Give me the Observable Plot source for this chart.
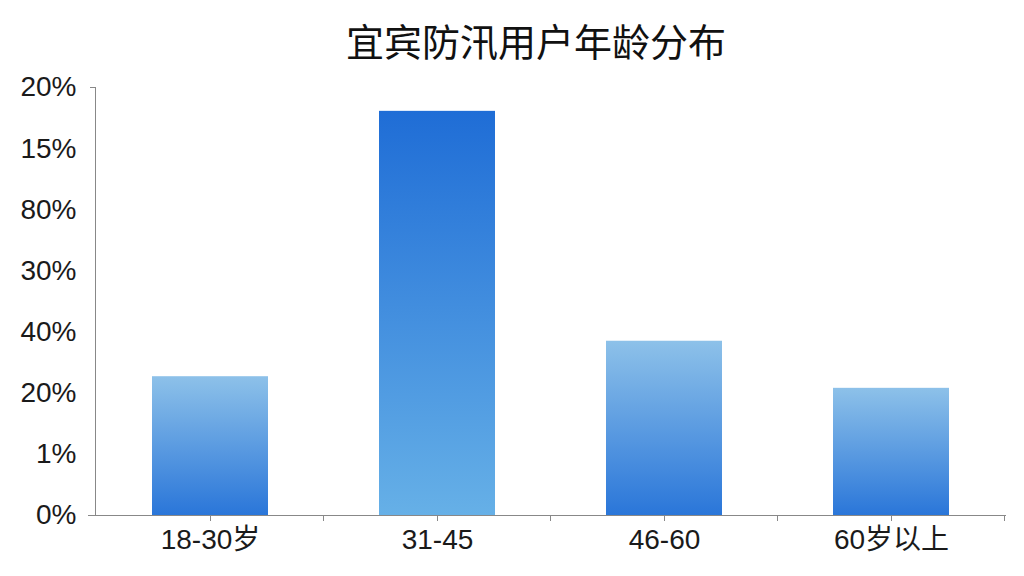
<!DOCTYPE html>
<html>
<head>
<meta charset="utf-8">
<script src="https://cdn.jsdelivr.net/npm/d3@7"></script>
<script src="https://cdn.jsdelivr.net/npm/@observablehq/plot@0.6"></script>
<style>
  html, body { margin: 0; padding: 0; background: #fff; }
  #wrap { width: 1024px; height: 576px; position: relative; overflow: hidden; }
  #title { position: absolute; left: 0; top: 17px; width: 1072px; text-align: center;
    font-family: "Noto Sans CJK SC", "Liberation Sans", sans-serif; font-size: 38px; font-weight: 400; color: #111; line-height: 46px; }
  #chart { position: absolute; left: 0; top: 60px; }
</style>
</head>
<body>
<div id="wrap">
  <div id="title">宜宾防汛用户年龄分布</div>
  <div id="chart"></div>
</div>
<script>
const categories = ["18-30岁", "31-45", "46-60", "60岁以上"];
const values = [2.27, 6.61, 2.85, 2.08];
const tickLabels = ["0%", "1%", "20%", "40%", "30%", "80%", "15%", "20%"];
const gradients = [
  ["#8dc1e9", "#2a76d9"],
  ["#1f6dd6", "#66b0e7"],
  ["#8dc1e9", "#2a76d9"],
  ["#8dc1e9", "#2a76d9"]
];

const data = categories.map((c, i) => ({ cat: c, value: values[i], grad: `url(#grad${i})` }));
const tickIdx = tickLabels.map((_, i) => i);
const font = "'Liberation Sans', 'Noto Sans CJK SC', Arial, sans-serif";

const chart = Plot.plot({
  width: 1024,
  height: 516,
  marginTop: 27,
  marginBottom: 61,
  marginLeft: 95,
  marginRight: 18,
  style: { fontFamily: font, color: "#1a1a1a", background: "#fff" },
  x: { domain: categories, paddingInner: 0.49, paddingOuter: 0.245, label: null },
  y: { domain: [0, tickLabels.length - 1], label: null },
  color: { type: "identity" },
  marks: [
    Plot.barY(data, { x: "cat", y: "value", fill: "grad" }),
    Plot.axisY({ ticks: tickIdx, tickSize: 0, tickPadding: 19, tickFormat: i => tickLabels[i], fontSize: 28, label: null }),
    Plot.axisY({ ticks: [tickLabels.length - 1], tickSize: 5, stroke: "#888", tickFormat: () => "", label: null }),
    Plot.frame({ anchor: "left", stroke: "#888" }),
    Plot.ruleY([0], { stroke: "#888", insetLeft: -7 }),
    Plot.axisX({ tickSize: 6, stroke: "#888", tickPadding: 8, fontSize: 28, label: null })
  ]
});

// gradients
const svg = d3.select(chart);
const defs = svg.insert("defs", ":first-child");
gradients.forEach((g, i) => {
  const lg = defs.append("linearGradient").attr("id", `grad${i}`).attr("x1", 0).attr("y1", 0).attr("x2", 0).attr("y2", 1);
  lg.append("stop").attr("offset", "0%").attr("stop-color", g[0]);
  lg.append("stop").attr("offset", "100%").attr("stop-color", g[1]);
});

// boundary ticks on the x axis
const xs = chart.scale("x");
const ys = chart.scale("y");
const y0 = ys.apply(0);
const bounds = categories.map(c => xs.apply(c) + xs.bandwidth / 2 + xs.step / 2);
svg.append("g").selectAll("line").data(bounds).join("line")
  .attr("x1", d => d).attr("x2", d => d)
  .attr("y1", y0).attr("y2", y0 + 6)
  .attr("stroke", "#888");

document.getElementById("chart").appendChild(chart);
</script>
</body>
</html>
